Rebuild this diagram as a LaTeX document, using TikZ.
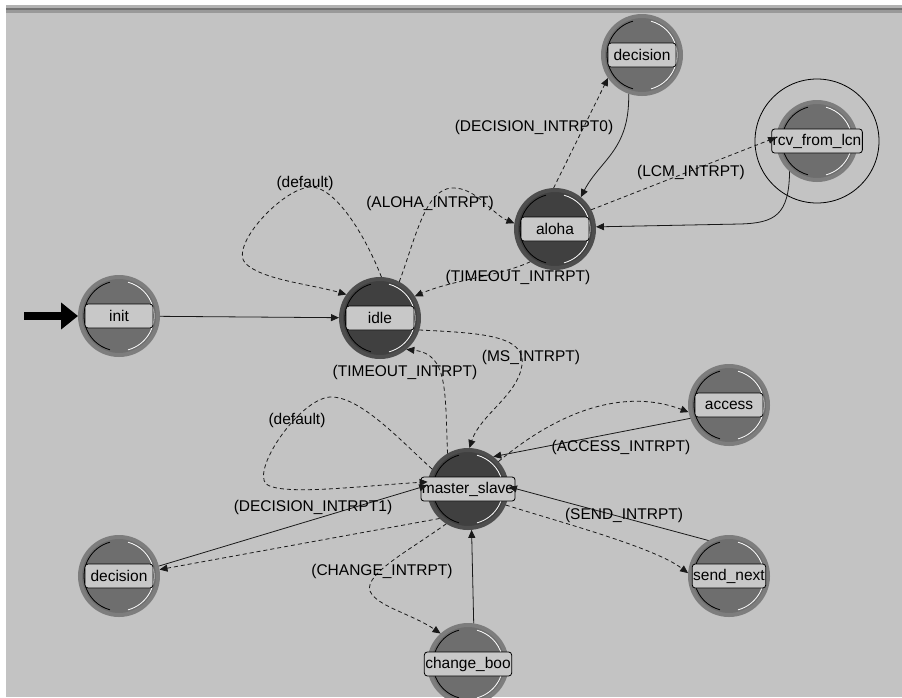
\documentclass[tikz,border=0pt]{standalone}
\usepackage{fontspec}
\setmainfont{Liberation Sans}
\definecolor{canvasgray}{RGB}{195,195,195}
\definecolor{stategray}{RGB}{110,110,110}
\definecolor{activegray}{RGB}{64,64,64}
\definecolor{ringgray}{RGB}{125,125,125}
\definecolor{ringdark}{RGB}{78,78,78}
\definecolor{boxgray}{RGB}{200,200,200}
\definecolor{linegray}{RGB}{25,25,25}
\usetikzlibrary{arrows.meta,positioning}

\begin{document}
\begin{tikzpicture}[x=1pt,y=-1pt]
		\tikzstyle{state}=[circle,draw=ringgray,line width=4pt,fill=stategray,
		minimum size=78pt,inner sep=0pt,
		path picture={
			\draw[white,line width=0.8pt] ([shift={(-75:35pt)}]path picture bounding box.center)
			arc[start angle=-75,end angle=75,radius=35pt];
			\draw[black,line width=0.8pt] ([shift={(105:35pt)}]path picture bounding box.center)
			arc[start angle=105,end angle=255,radius=35pt];}]
		\tikzstyle{active}=[fill=activegray,draw=ringdark]
		\tikzstyle{namebox}=[rectangle,draw=black,line width=0.8pt,fill=boxgray,
		rounded corners=3pt,minimum width=68pt,minimum height=24pt,inner xsep=1pt,
		font=\fontsize{15.5}{17}\selectfont]
		\tikzstyle{cond}=[inner sep=0pt,font=\fontsize{15.5}{17}\selectfont]
		\tikzstyle{solidtr}=[draw=linegray,line width=0.8pt,-{Triangle[length=8pt,width=7pt]}]
		\tikzstyle{dashtr}=[solidtr,dash pattern=on 4pt off 3pt]
		% window
		\useasboundingbox (0,0) rectangle (902,697);
		\fill[white] (0,0) rectangle (902,697);
		\fill[black!30] (6,5) rectangle (902,8);
		\fill[black!55] (6,8) rectangle (902,10);
		\fill[black!40] (6,10) rectangle (902,13);
		\fill[canvasgray] (6,13) rectangle (902,697);
		% states
		\node[circle,draw=black,line width=0.8pt,minimum size=124pt] (rcvring) at (817,141) {};
		\node[state,label={[namebox]center:init}] (init) at (119,316) {};
		\node[state,active,label={[namebox]center:idle}] (idle) at (380,318) {};
		\node[state,active,label={[namebox]center:aloha}] (aloha) at (555,229) {};
		\node[state,label={[namebox]center:decision}] (dectop) at (642,55) {};
		\node[state,label={[namebox]center:rcv\_from\_lcn}] (rcv) at (817,141) {};
		\node[state,active,label={[namebox]center:master\_slave}] (ms) at (468,489) {};
		\node[state,label={[namebox]center:access}] (access) at (729,405) {};
		\node[state,label={[namebox]center:send\_next}] (sendnext) at (729,576) {};
		\node[state,label={[namebox]center:decision}] (decbot) at (119,576) {};
		\node[state,label={[namebox]center:change\_boo}] (change) at (468,664) {};
		% entry
		\coordinate (entry) at (24,316);
		\draw[black,line width=8pt,-{Triangle[length=17pt,width=26pt]}] (entry) -- (init);
		% transitions
		\draw[solidtr] (init) -- (idle);
		\draw[dashtr] (idle.88) .. controls (365,235) and (335,186) .. (310,187)
		.. controls (282,189) and (230,245) .. (245,263)
		.. controls (262,280) and (310,284) .. (idle.145);
		\draw[dashtr] (idle.62) .. controls (415,240) and (425,189) .. (452,188)
		.. controls (476,187) and (492,214) .. (aloha.172);
		\draw[dashtr] (aloha.233) .. controls (500,276) and (452,280) .. (idle.32);
		\draw[dashtr] (aloha.92) -- (dectop.214);
		\draw[solidtr] (dectop.251) .. controls (630,150) and (600,160) .. (aloha.51);
		\draw[dashtr] (aloha.28) -- (rcv.175);
		\draw[solidtr] (rcv.228) .. controls (789,215) and (775,223) .. (740,224) -- (aloha.3);
		\draw[dashtr] (idle.-17) .. controls (480,333) and (526,335) .. (522,365)
		.. controls (518,395) and (480,415) .. (ms.88);
		\draw[dashtr] (ms.120) .. controls (445,390) and (448,354) .. (idle.-50);
		\draw[dashtr] (ms.151) .. controls (400,440) and (360,396) .. (330,397)
		.. controls (300,399) and (252,468) .. (266,484)
		.. controls (282,496) and (360,486) .. (ms.170);
		\draw[dashtr] (ms.42) .. controls (560,410) and (625,388) .. (access.190);
		\draw[solidtr] (access.199) -- (ms.52);
		\draw[dashtr] (ms.-23) .. controls (570,525) and (655,548) .. (sendnext.176);
		\draw[solidtr] (sendnext.120) -- (ms.3);
		\draw[solidtr] (decbot.14) -- (ms.175);
		\draw[dashtr] (ms.226) -- (decbot.9);
		\draw[dashtr] (ms.238) .. controls (410,550) and (364,574) .. (370,591)
		.. controls (376,606) and (412,614) .. (change.132);
		\draw[solidtr] (change.82) -- (ms.-85);
		% conditions
		\node[cond] (c1) at (305,183) {(default)};
		\node[cond] (c2) at (430,203) {(ALOHA\_INTRPT)};
		\node[cond] (c3) at (518,277) {(TIMEOUT\_INTRPT)};
		\node[cond] (c4) at (534,127) {(DECISION\_INTRPT0)};
		\node[cond] (c5) at (691,172) {(LCM\_INTRPT)};
		\node[cond] (c6) at (531,357) {(MS\_INTRPT)};
		\node[cond] (c7) at (405,372) {(TIMEOUT\_INTRPT)};
		\node[cond] (c8) at (297,420) {(default)};
		\node[cond] (c9) at (621,447) {(ACCESS\_INTRPT)};
		\node[cond] (c10) at (313,507) {(DECISION\_INTRPT1)};
		\node[cond] (c11) at (624,515) {(SEND\_INTRPT)};
		\node[cond] (c12) at (382,571) {(CHANGE\_INTRPT)};
	\end{tikzpicture}
\end{document}
